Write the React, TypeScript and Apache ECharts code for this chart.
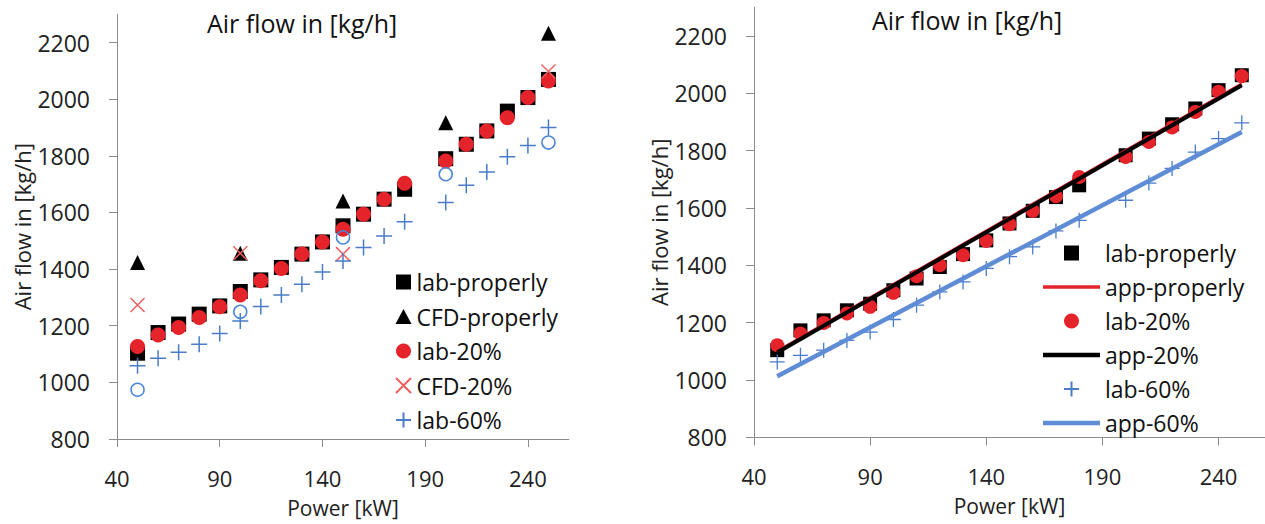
import React, { useEffect, useRef } from "react";
import * as echarts from "echarts";

// ---- data ----
const xTicks = [40, 90, 140, 190, 240];
const yTicks = [800, 1000, 1200, 1400, 1600, 1800, 2000, 2200];

const powerLab = [50, 60, 70, 80, 90, 100, 110, 120, 130, 140, 150, 160, 170, 180, 200, 210, 220, 230, 240, 250];

// left chart
const labProperlyL = [1103, 1176, 1206, 1241, 1270, 1321, 1362, 1406, 1453, 1496, 1553, 1594, 1647, 1682, 1790, 1841, 1888, 1958, 2006, 2070];
const lab20L = [1127, 1167, 1194, 1229, 1267, 1309, 1359, 1402, 1453, 1496, 1541, 1594, 1647, 1703, 1782, 1841, 1888, 1935, 2006, 2064];
const lab60L = [1059, 1085, 1106, 1135, 1173, 1217, 1268, 1309, 1347, 1390, 1429, 1476, 1517, 1567, 1635, 1696, 1743, 1797, 1837, 1900];
const powerCFD = [50, 100, 150, 200, 250];
const cfdProperly = [1423, 1456, 1641, 1917, 2233];
const powerCFD20 = [50, 100, 150, 250];
const cfd20 = [1273, 1456, 1453, 2098];
const cfd60 = [974, 1249, 1512, 1735, 1847];

// right chart
const labProperlyR = [1104, 1173, 1208, 1243, 1266, 1313, 1354, 1394, 1439, 1487, 1546, 1590, 1638, 1679, 1784, 1842, 1892, 1947, 2011, 2063];
const lab20R = [1121, 1162, 1199, 1232, 1255, 1304, 1362, 1400, 1435, 1485, 1543, 1590, 1641, 1708, 1778, 1830, 1881, 1935, 2005, 2060];
const lab60R = [1063, 1086, 1104, 1138, 1167, 1211, 1261, 1307, 1342, 1389, 1430, 1464, 1520, 1557, 1627, 1687, 1738, 1795, 1842, 1897];
const powerApp = [50, 250];
const appProperly = [1100, 2033];
const app20 = [1096, 2028];
const app60 = [1013, 1865];

const FONT = '"Open Sans", sans-serif';
const SQUARE = "path://M0,0L10,0L10,10L0,10Z";
const PLUS = "path://M5,0L5,10M0,5L10,5";
const CROSS = "path://M0,0L10,10M10,0L0,10";
const LINE3 = "path://M0,0L57,0L57,3.5L0,3.5Z";
const LINE4 = "path://M0,0L57,0L57,4.5L0,4.5Z";
const RED = "#E4232A";
const BLUE = "#4A7CC9";
const BLUE_LINE = "#5E8DD6";

const pairs = (xs: number[], ys: number[]) => xs.map((x, i) => [x, ys[i]]);

function xAxisFor(gridIndex: number) {
  return {
    type: "value",
    gridIndex,
    min: 40,
    max: 260,
    interval: 50,
    axisLine: { show: true, onZero: false, lineStyle: { color: "#8c8c8c", width: 1 } },
    axisTick: { show: true, length: 8, lineStyle: { color: "#8c8c8c" }, customValues: xTicks },
    axisLabel: { customValues: xTicks, margin: 29, fontSize: 22, lineHeight: 20, color: "#222", fontFamily: FONT, formatter: (v: number) => String(v) },
    splitLine: { show: false },
    name: "Power [kW]",
    nameLocation: "middle",
    nameGap: 58,
    nameTextStyle: { fontSize: 21, lineHeight: 22, color: "#222", fontFamily: FONT },
  };
}

function yAxisFor(gridIndex: number, nameGap: number) {
  return {
    type: "value",
    gridIndex,
    min: 800,
    max: 2300,
    interval: 200,
    axisLine: { show: true, onZero: false, lineStyle: { color: "#8c8c8c", width: 1 } },
    axisTick: { show: true, length: 8, lineStyle: { color: "#8c8c8c" }, customValues: yTicks },
    axisLabel: { customValues: yTicks, margin: 27, fontSize: 23, color: "#222", fontFamily: FONT, formatter: (v: number) => String(v) },
    splitLine: { show: false },
    name: "Air flow in [kg/h]",
    nameLocation: "middle",
    nameGap,
    nameTextStyle: { fontSize: 22, color: "#222", fontFamily: FONT },
  };
}

export default function App() {
  const ref = useRef<HTMLDivElement>(null);
  useEffect(() => {
    if (!ref.current) return;
    const chart = echarts.init(ref.current, null, { renderer: "svg" });
    const legendText = { fontSize: 23, color: "#111", fontFamily: FONT, lineHeight: 24 };
    const titleStyle = { fontSize: 25, fontWeight: "normal", color: "#111", fontFamily: FONT };
    chart.setOption({
      animation: false,
      backgroundColor: "#fff",
      title: [
        { text: "Air flow in [kg/h]", left: 207, top: 10, padding: 0, textStyle: titleStyle },
        { text: "Air flow in [kg/h]", left: 872, top: 7, padding: 0, textStyle: titleStyle },
      ],
      grid: [
        { left: 117, top: 14.3, width: 452, height: 426.4 },
        { left: 754, top: 7.3, width: 513.7, height: 430 },
      ],
      xAxis: [xAxisFor(0), xAxisFor(1)],
      yAxis: [yAxisFor(0, 83), yAxisFor(1, 84)],
      legend: [
        {
          orient: "vertical",
          left: 395,
          top: 270,
          padding: 0,
          itemWidth: 16,
          itemHeight: 15,
          itemGap: 10.5,
          symbolKeepAspect: true,
          textStyle: legendText,
          data: ["lab-properly", "CFD-properly", "lab-20%", "CFD-20%", "lab-60%"],
        },
        {
          orient: "vertical",
          left: 1043,
          top: 241,
          padding: 0,
          itemWidth: 57,
          itemHeight: 15,
          itemGap: 10,
          symbolKeepAspect: true,
          textStyle: legendText,
          data: [
            { name: "lab-properly", icon: SQUARE },
            { name: "app-properly", icon: LINE3 },
            { name: "lab-20%", icon: "circle" },
            { name: "app-20%", icon: LINE4 },
            { name: "lab-60%" },
            { name: "app-60%", icon: LINE4 },
          ],
        },
      ],
      series: [
        // left chart
        { type: "scatter", name: "lab-properly", xAxisIndex: 0, yAxisIndex: 0, symbol: SQUARE, symbolSize: 15, itemStyle: { color: "#000", opacity: 1 }, data: pairs(powerLab, labProperlyL) },
        { type: "scatter", name: "CFD-properly", xAxisIndex: 0, yAxisIndex: 0, symbol: "triangle", symbolSize: 15, itemStyle: { color: "#000", opacity: 1 }, data: pairs(powerCFD, cfdProperly) },
        { type: "scatter", name: "lab-20%", xAxisIndex: 0, yAxisIndex: 0, symbol: "circle", symbolSize: 15, itemStyle: { color: RED, opacity: 1 }, data: pairs(powerLab, lab20L) },
        { type: "scatter", name: "CFD-20%", xAxisIndex: 0, yAxisIndex: 0, symbol: CROSS, symbolSize: 14, itemStyle: { color: "transparent", borderColor: "#F0605F", borderWidth: 1.5, opacity: 1 }, data: pairs(powerCFD20, cfd20) },
        { type: "scatter", name: "lab-60%", xAxisIndex: 0, yAxisIndex: 0, symbol: PLUS, symbolSize: 16, itemStyle: { color: "transparent", borderColor: BLUE, borderWidth: 1.5, opacity: 1 }, data: pairs(powerLab, lab60L) },
        { type: "scatter", name: "CFD-60%", xAxisIndex: 0, yAxisIndex: 0, symbol: "circle", symbolSize: 13, itemStyle: { color: "transparent", borderColor: "#4A86D8", borderWidth: 1.5, opacity: 1 }, data: pairs(powerCFD, cfd60) },
        // right chart
        { type: "scatter", name: "lab-properly", xAxisIndex: 1, yAxisIndex: 1, symbol: SQUARE, symbolSize: 14, itemStyle: { color: "#000", opacity: 1 }, data: pairs(powerLab, labProperlyR) },
        { type: "line", name: "app-properly", xAxisIndex: 1, yAxisIndex: 1, symbol: "none", showSymbol: false, lineStyle: { color: RED, width: 3 }, itemStyle: { color: RED }, data: pairs(powerApp, appProperly) },
        { type: "scatter", name: "lab-20%", xAxisIndex: 1, yAxisIndex: 1, symbol: "circle", symbolSize: 14, itemStyle: { color: RED, opacity: 1 }, data: pairs(powerLab, lab20R) },
        { type: "line", name: "app-20%", xAxisIndex: 1, yAxisIndex: 1, symbol: "none", showSymbol: false, lineStyle: { color: "#000", width: 4 }, itemStyle: { color: "#000" }, data: pairs(powerApp, app20) },
        { type: "scatter", name: "lab-60%", xAxisIndex: 1, yAxisIndex: 1, symbol: PLUS, symbolSize: 15, itemStyle: { color: "transparent", borderColor: BLUE, borderWidth: 1.3, opacity: 1 }, data: pairs(powerLab, lab60R) },
        { type: "line", name: "app-60%", xAxisIndex: 1, yAxisIndex: 1, symbol: "none", showSymbol: false, lineStyle: { color: BLUE_LINE, width: 4.5 }, itemStyle: { color: BLUE_LINE }, data: pairs(powerApp, app60) },
      ],
    });
    return () => chart.dispose();
  }, []);
  return <div ref={ref} style={{ position: "absolute", left: 0, top: 0, width: 1265, height: 524 }} />;
}
